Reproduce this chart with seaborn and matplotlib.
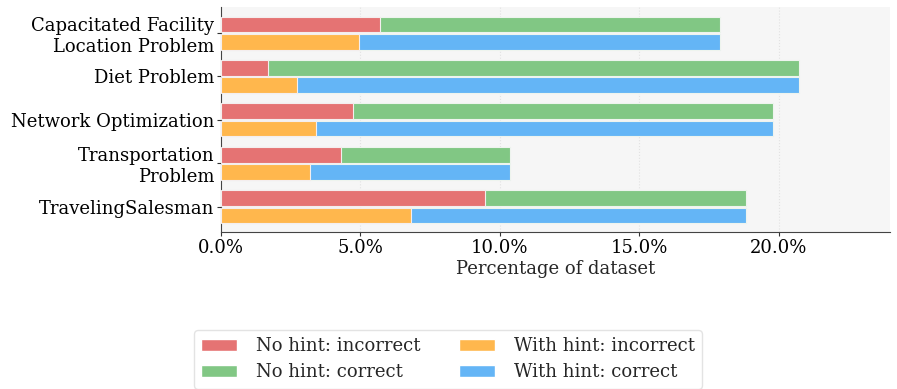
import matplotlib
matplotlib.use('Agg')
import matplotlib.pyplot as plt
from matplotlib.patches import Patch
from matplotlib.ticker import FuncFormatter
import seaborn as sns
import pandas as pd

# values, % of dataset
categories = ['Capacitated Facility\nLocation Problem', 'Diet Problem',
              'Network Optimization', 'Transportation\nProblem', 'TravelingSalesman']
no_hint_incorrect = [5.70, 1.70, 4.75, 4.29, 9.47]
no_hint_correct = [12.20, 19.03, 15.05, 6.07, 9.38]
with_hint_incorrect = [4.95, 2.71, 3.40, 3.19, 6.83]
with_hint_correct = [12.95, 18.02, 16.40, 7.17, 12.02]

colors = {'nh_inc': '#E57373', 'nh_cor': '#81C784',
          'wh_inc': '#FFB74D', 'wh_cor': '#64B5F6'}

sns.set_style('ticks')
plt.rcParams['font.family'] = ['DejaVu Serif']

rows = []
for i, cat in enumerate(categories):
    rows.append([cat, 'No hint', no_hint_incorrect[i], no_hint_incorrect[i] + no_hint_correct[i]])
    rows.append([cat, 'With hint', with_hint_incorrect[i], with_hint_incorrect[i] + with_hint_correct[i]])
df = pd.DataFrame(rows, columns=['Category', 'Hint', 'Incorrect', 'Total'])

fig = plt.figure(figsize=(8.97, 3.89), dpi=100)
ax = fig.add_axes([0.2464, 0.4036, 0.7458, 0.5784])
ax.set_facecolor('#f6f6f6')

# full bar = correct segment, then incorrect drawn over its start
sns.barplot(data=df, y='Category', x='Total', hue='Hint', orient='h',
            palette=[colors['nh_cor'], colors['wh_cor']], saturation=1,
            width=0.8, gap=0.1, edgecolor='#eef4ee', linewidth=0.8,
            legend=False, ax=ax, zorder=2)
sns.barplot(data=df, y='Category', x='Incorrect', hue='Hint', orient='h',
            palette=[colors['nh_inc'], colors['wh_inc']], saturation=1,
            width=0.8, gap=0.1, edgecolor='#f4eeee', linewidth=0.8,
            legend=False, ax=ax, zorder=3)

ax.set_xlim(0, 24)
ax.set_ylim(4.58, -0.6)
ax.xaxis.set_major_formatter(FuncFormatter(lambda v, p: f'{v:.1f}%'))
ax.set_xticks([0, 5, 10, 15, 20])
ax.set_xlabel('Percentage of dataset', fontsize=13, labelpad=2)
ax.set_ylabel('')
ax.tick_params(axis='both', labelsize=13, colors='#333333', labelcolor='black', length=3, pad=2)
ax.grid(axis='x', linestyle=':', color='#e2e2e2', linewidth=0.8, zorder=0)
ax.set_axisbelow(True)
for s in ['top', 'right']:
    ax.spines[s].set_visible(False)
for s in ['left', 'bottom']:
    ax.spines[s].set_color('#444444')

handles = [Patch(facecolor=colors['nh_inc'], edgecolor='white', label='No hint: incorrect'),
           Patch(facecolor=colors['nh_cor'], edgecolor='white', label='No hint: correct'),
           Patch(facecolor=colors['wh_inc'], edgecolor='white', label='With hint: incorrect'),
           Patch(facecolor=colors['wh_cor'], edgecolor='white', label='With hint: correct')]
fig.legend(handles=handles, loc='center', bbox_to_anchor=(0.4995, 0.076), ncol=2,
           fontsize=13, frameon=True, edgecolor='#dddddd', handlelength=2.0,
           columnspacing=2.1, handletextpad=1.05, borderpad=0.4, labelspacing=0.45)

fig.savefig('out.png', dpi=100)
